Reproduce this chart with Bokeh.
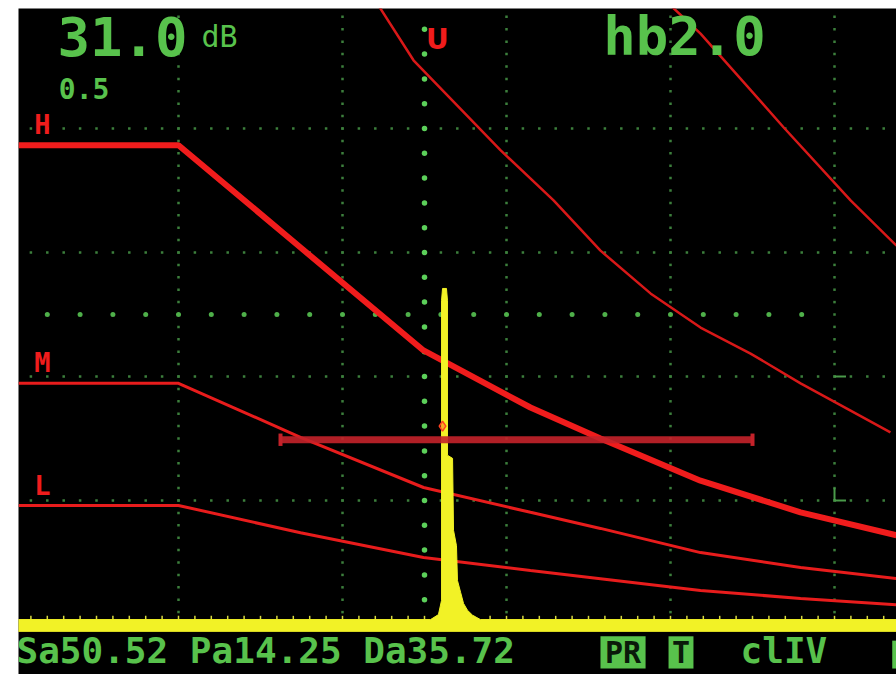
import numpy as np
from bokeh.plotting import figure
from bokeh.models import Range1d
from bokeh.core.properties import value
from bokeh.embed import file_html
from bokeh.resources import INLINE

# ---------------- data (x: screen divisions, y: % screen height) ----------------
X_MIN, X_MAX = 0.0244, 5.378
Y_MIN, Y_MAX = -8.06, 99.35

# DAC curves (H / M / L) sampled at common depths
dac_x = [0.0244, 1.0, 1.744, 2.494, 3.146, 3.573, 4.183, 4.793, 5.378]
dac_h = [77.3, 77.3, 60.8, 44.2, 35.0, 30.0, 23.2, 18.1, 14.4]
dac_m = [38.9, 38.9, 30.2, 22.1, 18.1, 15.5, 11.6, 9.2, 7.4]
dac_l = [19.2, 19.2, 14.8, 10.8, 8.7, 7.4, 5.5, 4.2, 3.2]

# two further reference curves in the upper right
curve1_x = [2.201, 2.433, 2.963, 3.287, 3.573, 3.878, 4.183, 4.488, 4.793, 5.098, 5.341]
curve1_y = [100.6, 91.0, 76.5, 68.4, 60.3, 53.4, 47.9, 43.7, 38.9, 34.5, 31.0]
curve2_x = [3.970, 4.183, 4.689, 5.098, 5.378]
curve2_y = [100.6, 95.3, 80.2, 68.4, 61.1]

# gate
gate_start, gate_end, gate_level = 1.622, 4.50, 29.8

# A-scan trace (echo)
scan_x = [0.0, 2.537, 2.585, 2.604, 2.604, 2.610, 2.634, 2.640, 2.640, 2.671,
          2.677, 2.695, 2.701, 2.720, 2.738, 2.762, 2.793, 2.841, 5.40]
scan_amp = [0.8, 0.8, 1.6, 3.9, 52.3, 54.2, 54.2, 52.3, 27.3, 26.8,
            15.2, 12.7, 7.1, 5.2, 3.4, 2.3, 1.5, 0.8, 0.8]
scan_floor = -1.1

# graticule
grid_x = [1, 2, 3, 4, 5]
grid_y = [20, 40, 60, 80]
mid_level = 50
cursor_x = 2.5

# texts
gain_text, gain_unit, step_text, range_text = "31.0", "dB", "0.5", "hb2.0"
curve_labels = ["H", "M", "L"]
curve_label_y = [80.6, 42.3, 22.4]
status_text = "Sa50.52 Pa14.25 Da35.72"
box_labels = ["PR", "T"]
box_x0 = [3.573, 3.988]
box_x1 = [3.848, 4.140]
mode_text = "clIV"

GREEN = "#58c24c"
DIM = "#3c7f3c"
RED = "#f01c1c"
YELLOW = "#f2f226"
FONT = value("DejaVu Sans Mono")

p = figure(width=896, height=674, x_range=Range1d(X_MIN, X_MAX), y_range=Range1d(Y_MIN, Y_MAX),
           output_backend="svg", toolbar_location=None, x_axis_location=None, y_axis_location=None,
           min_border=0, min_border_left=18, min_border_top=8, background_fill_color="black",
           border_fill_color="white", outline_line_color=None)
p.grid.grid_line_color = None

# graticule dots
vx, vy = [], []
for gx in grid_x:
    for yy in np.arange(0, 100.1, 2):
        vx.append(gx); vy.append(yy)
for gy in grid_y:
    for xx in np.arange(0, 5.41, 0.1):
        vx.append(xx); vy.append(gy)
p.scatter(vx, vy, marker="square", size=2.5, color=DIM, line_color=None)

mx = list(np.arange(0.2, 5.0, 0.2))
p.scatter(mx, [mid_level] * len(mx), marker="circle", size=5, color="#4fb04a", line_color=None)

cy = list(np.arange(4, 97, 4))
p.scatter([cursor_x] * len(cy), cy, marker="circle", size=5.5, color="#5cd05a", line_color=None)

# small markers at right graticule
p.segment(x0=[5.0, 5.0], y0=[40, 20], x1=[5.07, 5.07], y1=[40, 20], color="#4a9a4a", line_width=2)
p.segment(x0=[5.0], y0=[20], x1=[5.0], y1=[22], color="#4a9a4a", line_width=2)

# baseline ticks
tx = list(np.arange(0.1, 5.4, 0.1))
p.segment(x0=tx, y0=[0.8] * len(tx), x1=tx, y1=[1.4] * len(tx), color="#d8d840", line_width=1.5)

# curves
p.line(curve1_x, curve1_y, color="#d81818", line_width=2.5)
p.line(curve2_x, curve2_y, color="#d81818", line_width=2.5)
p.line(dac_x, dac_l, color="#e81c1c", line_width=3)
p.line(dac_x, dac_m, color="#e81c1c", line_width=3)
p.line(dac_x, dac_h, color=RED, line_width=6)

# echo
px_ = [scan_x[0]] + scan_x + [scan_x[-1]]
py_ = [scan_floor] + scan_amp + [scan_floor]
p.patch(px_, py_, color=YELLOW, line_color=YELLOW, line_width=1)

# gate
p.segment(x0=[gate_start], y0=[gate_level], x1=[gate_end], y1=[gate_level],
          color="#c4222a", line_width=7, alpha=0.9)
p.segment(x0=[gate_end, gate_start], y0=[gate_level - 1.0] * 2, x1=[gate_end, gate_start],
          y1=[gate_level + 1.0] * 2, color="#c4222a", line_width=4)
p.scatter([2.61], [32.0], marker="diamond", size=10, line_color="#ff4020", fill_color="#ff4020",
          fill_alpha=0.4, line_width=1.5)

# U marker
p.text([2.579], [94.3], text=["U"], text_font=value("DejaVu Sans"), text_font_style="bold",
       text_font_size="28px", text_color=RED, text_align="center", text_baseline="middle")

# top readouts
p.text([0.262], [94.9], text=[gain_text], text_font=FONT, text_font_style="bold",
       text_font_size="54px", text_color=GREEN, text_baseline="middle")
p.text([1.14], [94.9], text=[gain_unit], text_font=FONT, text_font_size="30px",
       text_color=GREEN, text_baseline="middle")
p.text([3.59], [94.9], text=[range_text], text_font=FONT, text_font_style="bold",
       text_font_size="54px", text_color=GREEN, text_baseline="middle")
p.text([0.27], [86.5], text=[step_text], text_font=FONT, text_font_style="bold",
       text_font_size="28px", text_color=GREEN, text_baseline="middle")

# curve labels
p.text([0.12] * 3, curve_label_y, text=curve_labels, text_font=FONT, text_font_style="bold",
       text_font_size="27px", text_color=RED, text_baseline="middle")

# status bar
p.text([0.012], [-4.2], text=[status_text], text_font=FONT, text_font_style="bold",
       text_font_size="36px", text_color=GREEN, text_baseline="middle")
p.quad(left=box_x0, right=box_x1, bottom=[-7.1] * 2, top=[-1.9] * 2, color=GREEN, line_color=None)
p.text([(a + b) / 2 for a, b in zip(box_x0, box_x1)], [-4.5] * 2, text=box_labels, text_font=FONT,
       text_font_style="bold", text_font_size="30px", text_color="#0a1a0a",
       text_align="center", text_baseline="middle")
p.text([4.427], [-4.2], text=[mode_text], text_font=FONT, text_font_style="bold",
       text_font_size="36px", text_color=GREEN, text_baseline="middle")
p.quad(left=[5.352], right=[5.40], bottom=[-7.1], top=[-2.6], color=GREEN, line_color=None)

open("out.html", "w").write(file_html(p, INLINE))
